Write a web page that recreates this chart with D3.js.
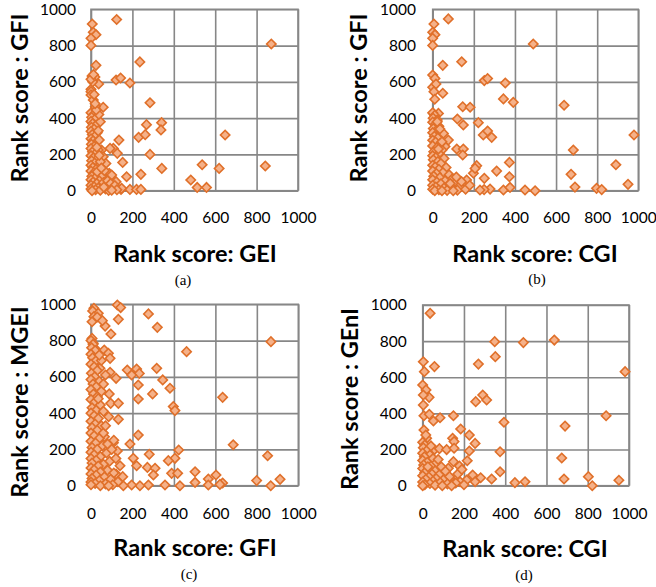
<!DOCTYPE html>
<html>
<head>
<meta charset="utf-8">
<script src="https://cdn.jsdelivr.net/npm/d3@7"></script>
<style>
  html, body { margin: 0; padding: 0; background: #ffffff; }
  svg { display: block; }
  .tick text { font-family: Lato, "Open Sans", sans-serif; font-size: 15.5px; fill: #000; }
  .title { font-family: Lato, "Open Sans", sans-serif; font-weight: bold; font-size: 23.5px; fill: #000; }
  .caption { font-family: "Liberation Serif", "Times New Roman", serif; font-size: 15px; fill: #000; }
</style>
</head>
<body>
<svg id="chart" width="656" height="587"></svg>
<script>
// Rank-score scatter values, one [x, y] pair per gene, for each comparison.
const rankGeiVsGfi = [
  [124,944],[871,809],[236,710],[121,610],[143,621],[188,594],[24,691],[285,485],[268,364],[341,375],
  [338,335],[230,294],[262,309],[135,279],[648,307],[285,200],[153,156],[342,123],[537,143],[619,123],
  [842,136],[241,90],[482,59],[513,18],[558,18],[172,77],[145,7],[188,7],[220,7],[241,7],
  [108,59],[88,96],[108,233],[127,206],[59,460],[37,588],[6,919],[11,873],[24,860],[0,840],
  [0,801],[5,632],[19,627],[0,559],[0,546],[0,528],[11,500],[21,463],[51,224],[59,187],[92,233],
  [72,150],[43,132],[100,86],[121,50],[63,68],[43,31],[108,18],[148,13],
  [0,430],[12,418],[3,405],[20,395],[0,382],[8,370],[25,362],[2,350],[15,340],[0,328],
  [30,320],[6,310],[18,298],[0,286],[10,275],[28,268],[2,256],[16,245],[0,232],[35,225],
  [7,215],[22,205],[0,193],[12,182],[30,175],[3,165],[18,152],[0,140],[38,138],[9,128],
  [25,118],[0,108],[14,98],[33,90],[4,80],[50,78],[20,70],[0,60],[40,55],[10,48],
  [28,40],[0,30],[55,25],[15,22],[35,15],[0,10],[70,10],[22,5],[45,3],[5,0],
  [85,2],[60,45],[75,30],[30,105],[45,160],[40,195],[28,240],[40,280],[35,330],[45,380],
  [38,420],[25,445],[65,110],[80,55],[95,40],[115,28],[125,5],[100,3],[62,20],[50,125],
  [20,480],[15,530],[8,600],[0,615],[12,640]
];

const rankCgiVsGfi = [
  [76,947],[6,919],[0,873],[11,860],[0,840],[0,801],[489,809],[49,691],[141,711],[0,638],
  [11,619],[251,607],[267,618],[353,594],[0,570],[16,588],[6,546],[49,537],[10,504],[344,506],
  [392,487],[639,471],[146,463],[182,460],[3,426],[28,426],[120,395],[149,362],[222,375],[246,307],
  [267,329],[287,294],[979,307],[117,230],[149,230],[146,197],[684,224],[373,156],[214,138],[311,108],
  [373,77],[251,68],[891,143],[673,90],[950,35],[692,20],[797,13],[822,6],[449,4],[498,0],
  [344,4],[279,9],[250,6],[230,4],[198,96],[206,123],[165,59],[149,31],[376,18],
  [0,430],[10,415],[2,400],[22,390],[0,378],[12,365],[30,355],[3,343],[18,332],[0,320],
  [40,312],[8,300],[25,290],[0,278],[52,316],[76,279],[60,243],[14,268],[35,258],[0,247],
  [20,236],[45,225],[5,215],[30,205],[0,193],[15,183],[55,178],[3,170],[25,160],[40,150],
  [0,140],[12,130],[65,128],[30,118],[0,108],[50,100],[18,95],[80,88],[5,80],[35,72],
  [95,65],[0,60],[60,55],[20,48],[110,45],[40,38],[0,30],[75,28],[130,25],[15,20],
  [55,15],[95,12],[0,8],[30,5],[120,3],[70,2],[160,8],[180,30],[10,0],[45,0],
  [100,0],[85,40],[140,50],[115,75],[28,230],[45,270],[35,340],[22,380]
];

const rankGfiVsMgei = [
  [127,996],[143,982],[14,978],[8,963],[35,950],[14,932],[5,904],[277,947],[132,917],[320,873],
  [68,880],[96,836],[868,794],[461,739],[5,812],[11,785],[19,757],[64,748],[84,730],[92,702],
  [35,684],[11,665],[43,647],[92,625],[175,638],[220,643],[233,619],[317,647],[121,592],[196,610],
  [228,555],[346,583],[381,537],[297,506],[228,478],[88,506],[95,454],[132,454],[397,436],[405,414],
  [635,487],[132,366],[228,279],[188,230],[686,226],[108,237],[127,191],[204,151],[281,173],[423,197],
  [405,151],[373,138],[220,110],[272,101],[309,96],[301,59],[389,68],[418,68],[502,77],[603,59],
  [566,37],[635,15],[622,7],[502,18],[566,4],[429,0],[357,4],[799,28],[852,165],[912,35],
  [867,0],[277,4],[236,0],[196,4],[156,0],[121,64],[153,50],
  [0,800],[10,780],[3,760],[20,745],[0,725],[8,705],[25,690],[0,670],[15,655],[30,635],
  [2,620],[18,600],[0,585],[40,575],[10,560],[25,545],[0,530],[50,520],[12,505],[30,490],
  [0,475],[18,460],[45,445],[5,430],[25,415],[0,400],[60,410],[15,385],[35,370],[0,355],
  [20,340],[50,330],[5,320],[30,305],[0,290],[15,275],[65,270],[40,260],[0,245],[22,235],
  [55,220],[5,210],[30,200],[0,185],[75,180],[15,170],[45,160],[0,150],[25,140],[90,135],
  [5,125],[60,118],[35,108],[0,98],[15,88],[80,85],[45,75],[0,65],[110,70],[25,58],
  [65,48],[5,40],[95,35],[40,28],[0,20],[130,22],[20,12],[70,10],[105,5],[0,5],
  [45,0],[85,0],[60,290],[80,230],[100,200],[70,330],[85,380],[35,480],[60,560],[70,610],
  [50,690],[40,720],[30,930],[55,910],[110,250],[120,150],[140,110]
];

const rankCgiVsGeni = [
  [36,954],[349,797],[488,792],[638,806],[352,714],[270,673],[3,686],[57,659],[8,631],[981,631],
  [0,557],[16,530],[31,489],[3,502],[3,446],[291,502],[310,474],[257,465],[6,387],[32,395],
  [52,358],[84,376],[149,387],[394,351],[889,387],[690,330],[184,314],[6,308],[19,262],[145,262],
  [152,244],[226,280],[254,234],[375,188],[226,192],[57,200],[81,205],[116,200],[152,207],[216,138],
  [178,109],[149,133],[375,77],[674,153],[334,37],[281,44],[447,17],[496,22],[685,37],[803,50],
  [822,0],[951,30],[242,59],[254,22],[213,31],[181,22],[100,59],[124,96],[132,41],
  [0,240],[10,225],[3,210],[20,195],[0,180],[35,170],[8,160],[50,150],[0,140],[22,130],
  [65,125],[5,115],[40,108],[90,105],[0,95],[25,88],[60,82],[110,80],[10,72],[45,65],
  [80,60],[0,55],[30,48],[130,50],[65,40],[15,35],[100,32],[50,25],[0,20],[85,18],
  [35,12],[120,10],[160,15],[10,5],[60,3],[0,0],[95,0],[140,0],[200,5],[25,105],
  [75,145],[40,220],[15,280],[170,65],[190,90]
];

const axisTicks = [0, 200, 400, 600, 800, 1000];
const xTitles = ["Rank score: GEI", "Rank score: CGI", "Rank score: GFI", "Rank score: CGI"];
const yTitles = ["Rank score : GFI", "Rank score : GFI", "Rank score : MGEI", "Rank score : GEnI"];
const captions = ["(a)", "(b)", "(c)", "(d)"];

// Panel placement on the page (plot box, label offsets).
const panels = [
  { data: rankGeiVsGfi,  left: 91,    right: 298,   top: 9.3,   bottom: 190.7, yPad: 15,   xPad: 21.5, yTitleX: 19,  yTitleY: 98,  xTitleX: 195, xTitleY: 253, capX: 183, capY: 280 },
  { data: rankCgiVsGfi,  left: 432.7, right: 638.3, top: 9.3,   bottom: 190.7, yPad: 16.7, xPad: 21.5, yTitleX: 358, yTitleY: 98,  xTitleX: 535, xTitleY: 253, capX: 537, capY: 279 },
  { data: rankGfiVsMgei, left: 91,    right: 298.3, top: 304.3, bottom: 485.7, yPad: 15,   xPad: 22.5, yTitleX: 19,  yTitleY: 402, xTitleX: 195, xTitleY: 547, capX: 189, capY: 574 },
  { data: rankCgiVsGeni, left: 422.7, right: 629,   top: 305,   bottom: 485.7, yPad: 16,   xPad: 22.5, yTitleX: 349, yTitleY: 399, xTitleX: 525, xTitleY: 548, capX: 524, capY: 575 }
];

const svg = d3.select("#chart");
const gridColor = "#878787";
const marker = d3.symbol().type(d3.symbolSquare).size(44);

panels.forEach((p, i) => {
  const x = d3.scaleLinear().domain([0, 1000]).range([p.left, p.right]);
  const y = d3.scaleLinear().domain([0, 1000]).range([p.bottom, p.top]);
  const w = p.right - p.left, h = p.bottom - p.top;
  const g = svg.append("g");

  // gridlines + tick labels
  const gy = g.append("g").attr("transform", `translate(${p.left},0)`)
    .call(d3.axisLeft(y).tickValues(axisTicks).tickFormat(d3.format("d")).tickSize(-w).tickPadding(p.yPad));
  const gx = g.append("g").attr("transform", `translate(0,${p.bottom})`)
    .call(d3.axisBottom(x).tickValues(axisTicks).tickFormat(d3.format("d")).tickSize(-h).tickPadding(p.xPad));
  [gy, gx].forEach(a => {
    a.select(".domain").remove();
    a.selectAll(".tick line").attr("stroke", gridColor).attr("stroke-width", 1.6);
  });

  // plot border
  g.append("rect").attr("x", p.left).attr("y", p.top).attr("width", w).attr("height", h)
    .attr("fill", "none").attr("stroke", gridColor).attr("stroke-width", 1.6);

  // diamond markers
  g.append("g").selectAll("path").data(p.data).join("path")
    .attr("d", marker)
    .attr("transform", d => `translate(${x(d[0])},${y(d[1])}) rotate(45)`)
    .attr("fill", "#f5b189")
    .attr("stroke", "#e0702a")
    .attr("stroke-width", 1.6);

  // axis titles
  g.append("text").attr("class", "title")
    .attr("x", p.xTitleX).attr("y", p.xTitleY)
    .attr("text-anchor", "middle").attr("dominant-baseline", "central")
    .text(xTitles[i]);
  g.append("text").attr("class", "title")
    .attr("transform", `translate(${p.yTitleX},${p.yTitleY}) rotate(-90)`)
    .attr("text-anchor", "middle").attr("dominant-baseline", "central")
    .text(yTitles[i]);

  // sub-figure caption
  g.append("text").attr("class", "caption")
    .attr("x", p.capX).attr("y", p.capY)
    .attr("text-anchor", "middle").attr("dominant-baseline", "central")
    .text(captions[i]);
});
</script>
</body>
</html>
